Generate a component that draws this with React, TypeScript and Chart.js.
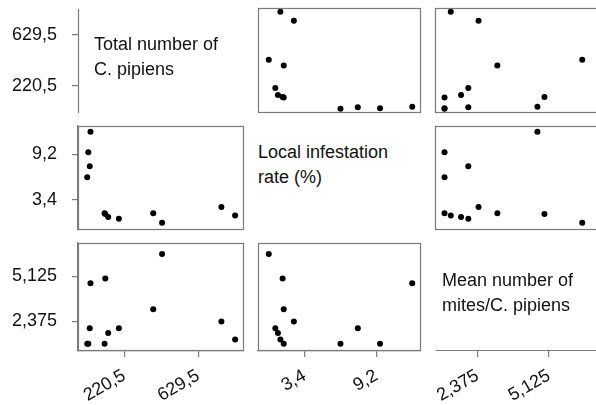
import React, { useEffect, useRef } from 'react';
import { Chart, registerables } from 'chart.js';

Chart.register(...registerables);

// ---- data (12 observations) ----
const VARIABLE_LABELS = [
  ['Total number of', 'C. pipiens'],
  ['Local infestation', 'rate (%)'],
  ['Mean number of', 'mites/C. pipiens'],
];
const totalNumber = [34, 22, 30, 16, 758, 112, 834, 132, 191, 381, 116, 430];
const infestationRate = [12.1, 9.5, 7.7, 6.3, 2.53, 1.71, 1.44, 1.24, 1.03, 1.71, 1.62, 0.5];
const meanMites = [4.71, 1.0, 1.95, 1.0, 2.36, 1.0, 1.25, 1.66, 1.95, 3.11, 4.99, 6.5];
const SERIES = [totalNumber, infestationRate, meanMites];
const TICK_VALUES = [
  [220.5, 629.5],
  [3.4, 9.2],
  [2.375, 5.125],
];

// ---- layout / styling ----
const PAGE_W = 596;
const PAGE_H = 405;
const X_RANGE = [
  [-35, 883],
  [-0.37, 12.81],
  [0.62, 7.13],
];
const Y_RANGE = [
  [-19, 866],
  [-0.41, 12.83],
  [0.55, 7.17],
];
const COL_X = [
  [78, 247],
  [255, 424],
  [432, 601],
];
const ROW_Y = [
  [5, 116],
  [123, 233],
  [240, 351],
];
const LABEL_POS = [
  { left: 94, top: 32 },
  { left: 258, top: 140 },
  { left: 442, top: 268 },
];
const FONT_FAMILY = '"Liberation Sans", Arial, Helvetica, sans-serif';
const FRAME_COLOR = '#7a7a7a';
const TEXT_COLOR = '#111';
const AXIS_INSET = 4;

Chart.defaults.font.family = FONT_FAMILY;

const fmt = (v: number) => String(v).replace('.', ',');

// box around the off-diagonal panels
const framePlugin = {
  id: 'frame',
  afterDatasetsDraw(chart: any) {
    const { ctx, chartArea: a } = chart;
    ctx.save();
    ctx.strokeStyle = FRAME_COLOR;
    ctx.lineWidth = 1.2;
    ctx.strokeRect(a.left + 0.5, a.top + 0.5, a.right - a.left - 1, a.bottom - a.top - 1);
    ctx.restore();
  },
};

// shortened axis line for the diagonal (label) cells
const axisLinePlugin = {
  id: 'axisLine',
  afterDraw(chart: any) {
    const { ctx, chartArea: a, scales } = chart;
    ctx.save();
    ctx.strokeStyle = FRAME_COLOR;
    ctx.lineWidth = 1.2;
    ctx.beginPath();
    if (scales.y.options.display) {
      ctx.moveTo(a.left + 0.5, a.top + AXIS_INSET);
      ctx.lineTo(a.left + 0.5, a.bottom - AXIS_INSET + 1);
    }
    if (scales.x.options.display) {
      ctx.moveTo(a.left + AXIS_INSET, a.bottom - 0.5);
      ctx.lineTo(a.right, a.bottom - 0.5);
    }
    ctx.stroke();
    ctx.restore();
  },
};

function axisOptions(kind: 'x' | 'y', v: number, show: boolean, size: number, diag: boolean) {
  const range = kind === 'x' ? X_RANGE[v] : Y_RANGE[v];
  return {
    type: 'linear',
    position: kind === 'x' ? 'bottom' : 'left',
    min: range[0],
    max: range[1],
    display: show,
    afterBuildTicks: (s: any) => {
      s.ticks = TICK_VALUES[v].map((value) => ({ value }));
    },
    afterFit: (s: any) => {
      const sz = show ? size : 0;
      if (kind === 'x') s.height = sz;
      else s.width = sz;
      s.paddingTop = 0;
      s.paddingBottom = 0;
      s.paddingLeft = 0;
      s.paddingRight = 0;
    },
    grid: {
      display: true,
      drawOnChartArea: false,
      drawTicks: true,
      tickLength: 6,
      color: FRAME_COLOR,
      lineWidth: 1.2,
    },
    border: { display: !diag, color: FRAME_COLOR, width: 1.2 },
    ticks: {
      color: TEXT_COLOR,
      font: { size: 18, family: FONT_FAMILY },
      padding: kind === 'x' ? 8 : 15,
      minRotation: kind === 'x' ? 30 : 0,
      maxRotation: kind === 'x' ? 30 : 0,
      autoSkip: false,
      callback: (value: number) => fmt(value),
    },
  };
}

function Cell({ r, c }: { r: number; c: number }) {
  const ref = useRef<HTMLCanvasElement>(null);
  const showY = c === 0;
  const showX = r === 2;
  const left = showY ? 0 : COL_X[c][0];
  const top = ROW_Y[r][0];
  const width = COL_X[c][1] - left;
  const height = (showX ? PAGE_H : ROW_Y[r][1]) - top;
  const diag = r === c;

  useEffect(() => {
    const data = diag ? [] : SERIES[c].map((x, i) => ({ x, y: SERIES[r][i] }));
    const chart = new Chart(ref.current as HTMLCanvasElement, {
      type: 'scatter',
      data: {
        datasets: [
          {
            data,
            backgroundColor: '#000',
            borderColor: '#000',
            borderWidth: 0,
            pointRadius: 3,
            pointHoverRadius: 3,
          },
        ],
      },
      options: {
        animation: false,
        responsive: false,
        events: [],
        layout: { padding: 0 },
        plugins: { legend: { display: false }, tooltip: { enabled: false } },
        scales: {
          x: axisOptions('x', c, showX, PAGE_H - ROW_Y[2][1], diag) as any,
          y: axisOptions('y', r, showY, COL_X[0][0], diag) as any,
        },
      },
      plugins: diag ? [axisLinePlugin] : [framePlugin],
    });
    return () => chart.destroy();
  }, []);

  return (
    <canvas
      ref={ref}
      width={width}
      height={height}
      style={{ position: 'absolute', left, top, width, height }}
    />
  );
}

export default function App() {
  const cells: React.ReactNode[] = [];
  for (let r = 0; r < 3; r++) {
    for (let c = 0; c < 3; c++) {
      if (r === c && r === 1) continue;
      cells.push(<Cell key={`${r}-${c}`} r={r} c={c} />);
    }
  }
  return (
    <div
      style={{
        position: 'fixed',
        left: 0,
        top: 0,
        width: PAGE_W,
        height: PAGE_H,
        overflow: 'hidden',
        background: '#fff',
      }}
    >
      {cells}
      {VARIABLE_LABELS.map((lines, i) => (
        <div
          key={i}
          style={{
            position: 'absolute',
            left: LABEL_POS[i].left,
            top: LABEL_POS[i].top,
            fontFamily: FONT_FAMILY,
            fontSize: 18,
            lineHeight: '25px',
            color: TEXT_COLOR,
            whiteSpace: 'nowrap',
          }}
        >
          {lines.map((l, j) => (
            <div key={j}>{l}</div>
          ))}
        </div>
      ))}
    </div>
  );
}
